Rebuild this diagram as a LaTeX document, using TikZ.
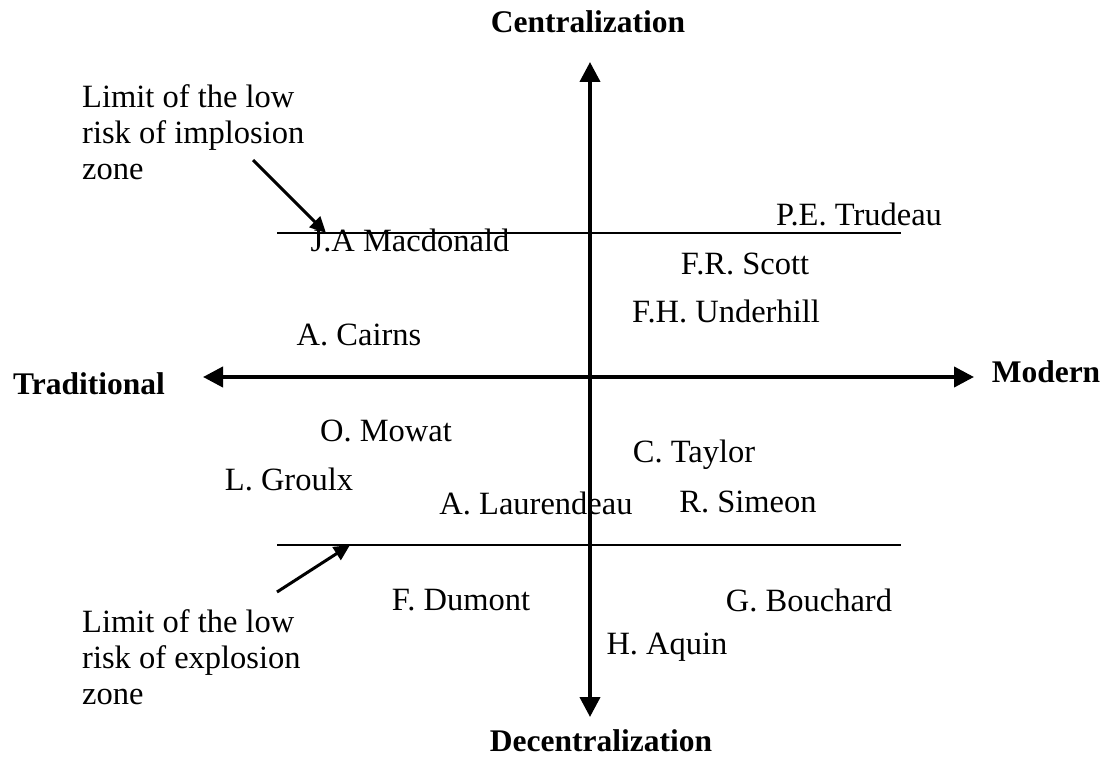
\documentclass[tikz,border=0pt]{standalone}
\usepackage{fontspec}
\setmainfont{Liberation Serif}
\usetikzlibrary{arrows.meta}
\begin{document}
\begin{tikzpicture}[x=1pt,y=-1pt,
  lbl/.style={inner sep=0pt,font=\fontsize{32.5}{36}\selectfont},
  axlbl/.style={inner sep=0pt,font=\fontsize{31.5}{36}\selectfont\bfseries},
  note/.style={inner sep=0pt,font=\fontsize{32.5}{36}\selectfont,align=left,anchor=north west},
  axis/.style={line width=4pt,{Triangle[length=20pt,width=20pt]}-{Triangle[length=20pt,width=20pt]}},
  limit/.style={line width=1.4pt},
  pointer/.style={line width=3pt,-{Triangle[length=16pt,width=15pt]}}]
\useasboundingbox (0,0) rectangle (1106,757);
% axes
\coordinate (top) at (590,62);
\coordinate (bot) at (590,717);
\coordinate (lft) at (203,377);
\coordinate (rgt) at (974,377);
\draw[axis] (bot) -- (top);
\draw[axis] (lft) -- (rgt);
% limit lines
\coordinate (l1a) at (277,233);
\coordinate (l1b) at (901,233);
\coordinate (l2a) at (277,545);
\coordinate (l2b) at (901,545);
\draw[limit] (l1a) -- (l1b);
\draw[limit] (l2a) -- (l2b);
% axis labels
\node[axlbl] (cen) at (588,22) {Centralization};
\node[axlbl] (dec) at (601,741) {Decentralization};
\node[axlbl] (tra) at (89,384) {Traditional};
\node[axlbl] (mod) at (1046,372) {Modern};
% notes
\node[note] (n1) at (82,84) {Limit of the low\\risk of implosion\\zone};
\node[note] (n2) at (82,609) {Limit of the low\\risk of explosion\\zone};
\coordinate (p1s) at (253,160);
\coordinate (p1e) at (326,233);
\coordinate (p2s) at (277,592);
\coordinate (p2e) at (350,545);
\draw[pointer] (p1s) -- (p1e);
\draw[pointer] (p2s) -- (p2e);
% names
\node[lbl] (tru) at (859,214) {P.E. Trudeau};
\node[lbl] (mac) at (410,240) {J.A Macdonald};
\node[lbl] (sco) at (745,264) {F.R. Scott};
\node[lbl] (und) at (726,311) {F.H. Underhill};
\node[lbl] (cai) at (359,335) {A. Cairns};
\node[lbl] (mow) at (386,431) {O. Mowat};
\node[lbl] (tay) at (694,455) {C. Taylor};
\node[lbl] (gro) at (289,479) {L. Groulx};
\node[lbl] (lau) at (536,503) {A. Laurendeau};
\node[lbl] (sim) at (748,502) {R. Simeon};
\node[lbl] (dum) at (461,600) {F. Dumont};
\node[lbl] (bou) at (809,600) {G. Bouchard};
\node[lbl] (aqu) at (667,647) {H. Aquin};
\end{tikzpicture}
\end{document}
